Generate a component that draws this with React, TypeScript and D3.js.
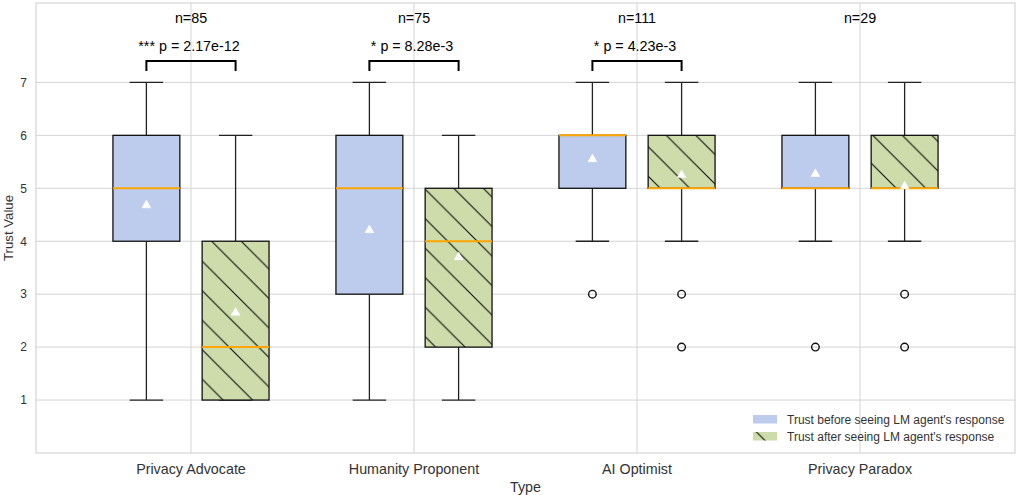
import React from "react";
import * as d3 from "d3";

const categories = ["Privacy Advocate", "Humanity Proponent", "AI Optimist", "Privacy Paradox"];
const nCounts = [85, 75, 111, 29];
const pLabels = ["*** p = 2.17e-12", "* p = 8.28e-3", "* p = 4.23e-3", ""];
const yTicks = [1, 2, 3, 4, 5, 6, 7];

const beforeLow = [1, 1, 4, 4];
const beforeQ1 = [4, 3, 5, 5];
const beforeMedian = [5, 5, 6, 5];
const beforeQ3 = [6, 6, 6, 6];
const beforeHigh = [7, 7, 7, 7];
const beforeMean = [4.68, 4.21, 5.55, 5.27];
const beforeOutliers = [[], [], [3], [2]];

const afterLow = [1, 1, 4, 4];
const afterQ1 = [1, 2, 5, 5];
const afterMedian = [2, 4, 5, 5];
const afterQ3 = [4, 5, 6, 6];
const afterHigh = [6, 6, 7, 7];
const afterMean = [2.65, 3.7, 5.25, 5.04];
const afterOutliers = [[], [], [3, 2], [3, 2]];

const legendLabels = ["Trust before seeing LM agent's response", "Trust after seeing LM agent's response"];

const W = 1016, H = 495;
const left = 36, right = 1015, top = 3, bottom = 453;
const FONT = "Liberation Sans, Arial, sans-serif";
const BLUE = "#bdccec";
const GREEN = "#cedcab";
const GRID = "#d4d4d4";

export default function App() {
  const x = d3.scaleLinear().domain([-0.695, 3.695]).range([left, right]);
  const y = d3.scaleLinear().domain([0, 8.5]).range([bottom, top]);
  const off = 0.2, bw = 0.3;
  const pxW = x(bw) - x(0);

  const series = [
    { low: beforeLow, q1: beforeQ1, med: beforeMedian, q3: beforeQ3, high: beforeHigh, mean: beforeMean, out: beforeOutliers, fill: BLUE, dx: -off, hatch: false },
    { low: afterLow, q1: afterQ1, med: afterMedian, q3: afterQ3, high: afterHigh, mean: afterMean, out: afterOutliers, fill: GREEN, dx: off, hatch: true },
  ];

  const s = 29.5;
  return (
    <svg width={W} height={H} style={{ position: "absolute", left: 0, top: 0, background: "#fff" }} fontFamily={FONT}>
      <defs>
        <pattern id="hatch" patternUnits="userSpaceOnUse" width={s} height={s}>
          <rect width={s} height={s} fill={GREEN} />
          <path d={`M0,0 L${s},${s} M${-s / 2},${s / 2} L${s / 2},${s * 1.5} M${s / 2},${-s / 2} L${s * 1.5},${s / 2}`} stroke="#000" strokeWidth={1} />
        </pattern>
      </defs>
      {/* grid */}
      {yTicks.map((t) => (
        <line key={"gy" + t} x1={left} x2={right} y1={y(t)} y2={y(t)} stroke={GRID} strokeWidth={1} />
      ))}
      {categories.map((c, i) => (
        <line key={"gx" + i} x1={x(i)} x2={x(i)} y1={top} y2={bottom} stroke={GRID} strokeWidth={1} />
      ))}
      <rect x={left} y={top} width={right - left} height={bottom - top} fill="none" stroke={GRID} strokeWidth={1.2} />
      {/* boxes */}
      {series.map((sr, si) =>
        categories.map((c, i) => {
          const cx = x(i + sr.dx);
          const capW = pxW / 2;
          return (
            <g key={`b${si}-${i}`}>
              <line x1={cx} x2={cx} y1={y(sr.q3[i])} y2={y(sr.high[i])} stroke="#222" strokeWidth={1.3} />
              <line x1={cx} x2={cx} y1={y(sr.q1[i])} y2={y(sr.low[i])} stroke="#222" strokeWidth={1.3} />
              <line x1={cx - capW / 2} x2={cx + capW / 2} y1={y(sr.high[i])} y2={y(sr.high[i])} stroke="#222" strokeWidth={1.3} />
              <line x1={cx - capW / 2} x2={cx + capW / 2} y1={y(sr.low[i])} y2={y(sr.low[i])} stroke="#222" strokeWidth={1.3} />
              <rect x={cx - pxW / 2} y={y(sr.q3[i])} width={pxW} height={y(sr.q1[i]) - y(sr.q3[i])} fill={sr.hatch ? "url(#hatch)" : sr.fill} stroke="#111" strokeWidth={1.3} />
              <line x1={cx - pxW / 2} x2={cx + pxW / 2} y1={y(sr.med[i])} y2={y(sr.med[i])} stroke="#ffa500" strokeWidth={2} />
              <path d={d3.symbol(d3.symbolTriangle, 34)()!} transform={`translate(${cx},${y(sr.mean[i])})`} fill="#fff" stroke="#fff" strokeWidth={0.5} />
              {sr.out[i].map((o, k) => (
                <circle key={k} cx={cx} cy={y(o)} r={3.8} fill="none" stroke="#111" strokeWidth={1.4} />
              ))}
            </g>
          );
        })
      )}
      {/* annotations */}
      {categories.map((c, i) => (
        <g key={"a" + i}>
          <text x={x(i)} y={23} textAnchor="middle" fontSize={14.3} fill="#000">{`n=${nCounts[i]}`}</text>
          {pLabels[i] && (
            <g>
              <text x={x(i) - 2} y={51} textAnchor="middle" fontSize={14.3} fill="#000">{pLabels[i]}</text>
              <path d={`M${x(i - off)},${71} V${61} H${x(i + off)} V${71}`} fill="none" stroke="#000" strokeWidth={2} />
            </g>
          )}
        </g>
      ))}
      {/* y ticks */}
      {yTicks.map((t) => (
        <text key={"yt" + t} x={27} y={y(t) + 4.3} textAnchor="end" fontSize={12} fill="#333">{t}</text>
      ))}
      <text transform={`translate(13,${(top + bottom) / 2}) rotate(-90)`} textAnchor="middle" fontSize={13.2} fill="#333">Trust Value</text>
      {categories.map((c, i) => (
        <text key={"xt" + i} x={x(i)} y={474} textAnchor="middle" fontSize={14.3} fill="#333">{c}</text>
      ))}
      <text x={(left + right) / 2} y={492} textAnchor="middle" fontSize={14.3} fill="#333">Type</text>
      {/* legend */}
      <rect x={753} y={415} width={24} height={8.5} fill={BLUE} />
      <text x={787} y={424} fontSize={12} fill="#333">{legendLabels[0]}</text>
      <rect x={753} y={432} width={24} height={8.5} fill="url(#hatch)" />
      <text x={787} y={441} fontSize={12} fill="#333">{legendLabels[1]}</text>
    </svg>
  );
}
